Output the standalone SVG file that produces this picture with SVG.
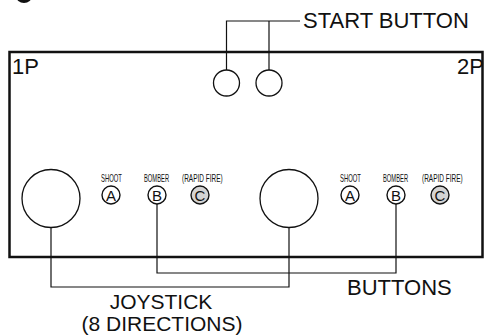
<svg xmlns="http://www.w3.org/2000/svg" width="484" height="336" viewBox="0 0 484 336">
<style>
.lbl{font-family:"Liberation Sans",Arial,sans-serif;font-size:22px;fill:#111}
.lb2{font-family:"Liberation Sans",Arial,sans-serif;font-size:21px;fill:#111;text-anchor:middle}
.sm{font-family:"Liberation Sans",Arial,sans-serif;font-size:10px;fill:#111}
.btn{fill:#fff;stroke:#111;stroke-width:1.4}
.btnc{fill:#d4d4d4;stroke:#111;stroke-width:1.4}
.ltr{font-family:"Liberation Sans",Arial,sans-serif;font-size:15px;fill:#111;text-anchor:middle}
.stick{fill:#fff;stroke:#111;stroke-width:1.3}
.con{fill:none;stroke:#111;stroke-width:1.2}
</style>
<rect width="484" height="336" fill="#fff"/>
<ellipse cx="24" cy="-4" rx="8" ry="7" fill="#111"/>
<g id="panel">
<rect x="9.5" y="52" width="473" height="205" fill="none" stroke="#111" stroke-width="2.5"/>
<text class="lbl" x="12" y="74">1P</text>
<text class="lbl" x="457" y="74">2P</text>
</g>
<g id="start1"><circle class="stick" cx="226.5" cy="83" r="13"/></g>
<g id="start2"><circle class="stick" cx="269" cy="83" r="13"/></g>
<g id="start-label"><text class="lbl" x="303" y="28">START BUTTON</text></g>
<g id="joy1"><circle class="stick" cx="51" cy="198.5" r="29"/></g>
<g id="joy2"><circle class="stick" cx="289" cy="198.5" r="29"/></g>
<g id="p1-a"><text class="sm" transform="translate(101 182) scale(0.59 1)">SHOOT</text><circle class="btn" cx="111" cy="195" r="9"/><text class="ltr" x="111" y="200.5">A</text></g>
<g id="p1-b"><text class="sm" transform="translate(144 182) scale(0.58 1)">BOMBER</text><circle class="btn" cx="157" cy="195" r="9"/><text class="ltr" x="157" y="200.5">B</text></g>
<g id="p1-c"><text class="sm" transform="translate(182 182) scale(0.65 1)">(RAPID FIRE)</text><circle class="btnc" cx="200" cy="195" r="9"/><text class="ltr" x="200" y="200.5">C</text></g>
<g id="p2-a"><text class="sm" transform="translate(340 182) scale(0.59 1)">SHOOT</text><circle class="btn" cx="350" cy="195" r="9"/><text class="ltr" x="350" y="200.5">A</text></g>
<g id="p2-b"><text class="sm" transform="translate(383 182) scale(0.58 1)">BOMBER</text><circle class="btn" cx="396" cy="195" r="9"/><text class="ltr" x="396" y="200.5">B</text></g>
<g id="p2-c"><text class="sm" transform="translate(422 182) scale(0.65 1)">(RAPID FIRE)</text><circle class="btnc" cx="440" cy="195" r="9"/><text class="ltr" x="440" y="200.5">C</text></g>
<g id="buttons-label"><text class="lbl" x="347" y="295">BUTTONS</text></g>
<g id="joystick-label"><text class="lb2" x="161" y="309">JOYSTICK</text><text class="lb2" x="162" y="331">(8 DIRECTIONS)</text></g>
<g id="connectors">
<path class="con" d="M226.5 70V21H300M269 70V21"/>
<path class="con" d="M51 227.5V287H289V227.5"/>
<path class="con" d="M157 204V273H396V204"/>
</g>
</svg>
